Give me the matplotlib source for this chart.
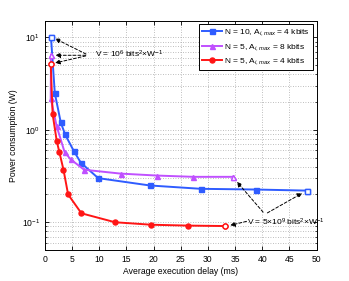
import numpy as np
import matplotlib
matplotlib.use("Agg")
import matplotlib.pyplot as plt

# values
delay_n10 = [1.1, 1.8, 2.9, 3.7, 5.3, 6.6, 9.8, 19.3, 28.7, 38.8, 48.2]
power_n10 = [10.0, 2.5, 1.2, 0.89, 0.59, 0.44, 0.30, 0.25, 0.23, 0.226, 0.22]

delay_n5_8k = [1.1, 1.05, 2.15, 3.6, 4.7, 7.2, 13.9, 20.6, 27.3, 34.7]
power_n5_8k = [6.4, 2.2, 1.09, 0.575, 0.48, 0.37, 0.336, 0.32, 0.31, 0.31]

delay_n5_4k = [1.05, 1.4, 2.15, 2.65, 3.4, 4.25, 6.7, 12.9, 19.6, 26.4, 33.1]
power_n5_4k = [5.2, 1.48, 0.76, 0.57, 0.37, 0.20, 0.125, 0.10, 0.094, 0.092, 0.091]

labels = ["N = 10, A$_{i,max}$ = 4 kbits",
          "N = 5, A$_{i,max}$ = 8 kbits",
          "N = 5, A$_{i,max}$ = 4 kbits"]
colors = ["#2f5cff", "#c050ff", "#ff1515"]
markers = ["s", "^", "o"]

plt.rcParams['font.family'] = ['Liberation Sans', 'DejaVu Sans']
plt.rcParams['mathtext.fontset'] = 'custom'
plt.rcParams['mathtext.rm'] = 'Liberation Sans'
plt.rcParams['mathtext.it'] = 'Liberation Sans:italic'

fig = plt.figure(figsize=(3.49, 2.81), dpi=100)
ax = fig.add_axes([0.129, 0.110, 0.778, 0.815])

series = [(delay_n10, power_n10), (delay_n5_8k, power_n5_8k), (delay_n5_4k, power_n5_4k)]
for (xs, ys), c, m, lab in zip(series, colors, markers, labels):
    ax.plot(xs, ys, color=c, marker=m, lw=1.4, ms=3.6, mfc=c, mec=c, label=lab)
    # end points are drawn hollow
    ax.plot([xs[0], xs[-1]], [ys[0], ys[-1]], ls="none", marker=m, ms=3.6,
            mfc="white", mec=c, mew=1.0)

ax.set_yscale("log")
ax.set_xlim(0, 50)
ax.set_ylim(0.05, 15)
ax.set_xticks(np.arange(0, 51, 5))
ax.grid(True, which="major", ls=(0, (1, 2)), color="#a8a8a8", lw=0.6)
ax.grid(True, which="minor", axis="y", ls=(0, (1, 2)), color="#a8a8a8", lw=0.6)
ax.tick_params(labelsize=6.2, direction="in", length=3, width=0.6, top=True, right=True)
ax.tick_params(which="minor", direction="in", length=1.5, width=0.5, top=True, right=True)
for s in ax.spines.values():
    s.set_linewidth(0.7)

ax.set_xlabel("Average execution delay (ms)", fontsize=6.2, labelpad=2)
ax.set_ylabel("Power consumption (W)", fontsize=6.2, labelpad=3)

leg = ax.legend(loc="upper right", fontsize=6, fancybox=False, framealpha=1,
                edgecolor="black", borderpad=0.35, handlelength=2.4,
                labelspacing=0.4, borderaxespad=0.4, handletextpad=0.3)
leg.get_frame().set_linewidth(0.7)

arrow = dict(arrowstyle="-|>", linestyle=(0, (3, 2)), color="black", lw=0.7,
             mutation_scale=7)

# upper annotation
ax.text(9.2, 6.6, "V = 10$^6$ bits$^2$$\\times$W$^{-1}$", fontsize=6, va="center")
for xs, ys in series:
    ax.annotate("", xy=(xs[0] + 0.3, ys[0]), xytext=(8.0, 6.4), arrowprops=arrow)

# lower annotation
ax.text(37.2, 0.1, "V = 5$\\times$10$^9$ bits$^2$$\\times$W$^{-1}$", fontsize=6, va="center")
ax.annotate("", xy=(delay_n10[-1] - 0.4, power_n10[-1] * 0.97), xytext=(40.5, 0.122), arrowprops=arrow)
ax.annotate("", xy=(delay_n5_8k[-1] + 0.3, power_n5_8k[-1] * 0.93), xytext=(40.5, 0.122), arrowprops=arrow)
ax.annotate("", xy=(delay_n5_4k[-1] + 0.5, power_n5_4k[-1]), xytext=(37.6, 0.104), arrowprops=arrow)

fig.savefig("out.png", dpi=100)
